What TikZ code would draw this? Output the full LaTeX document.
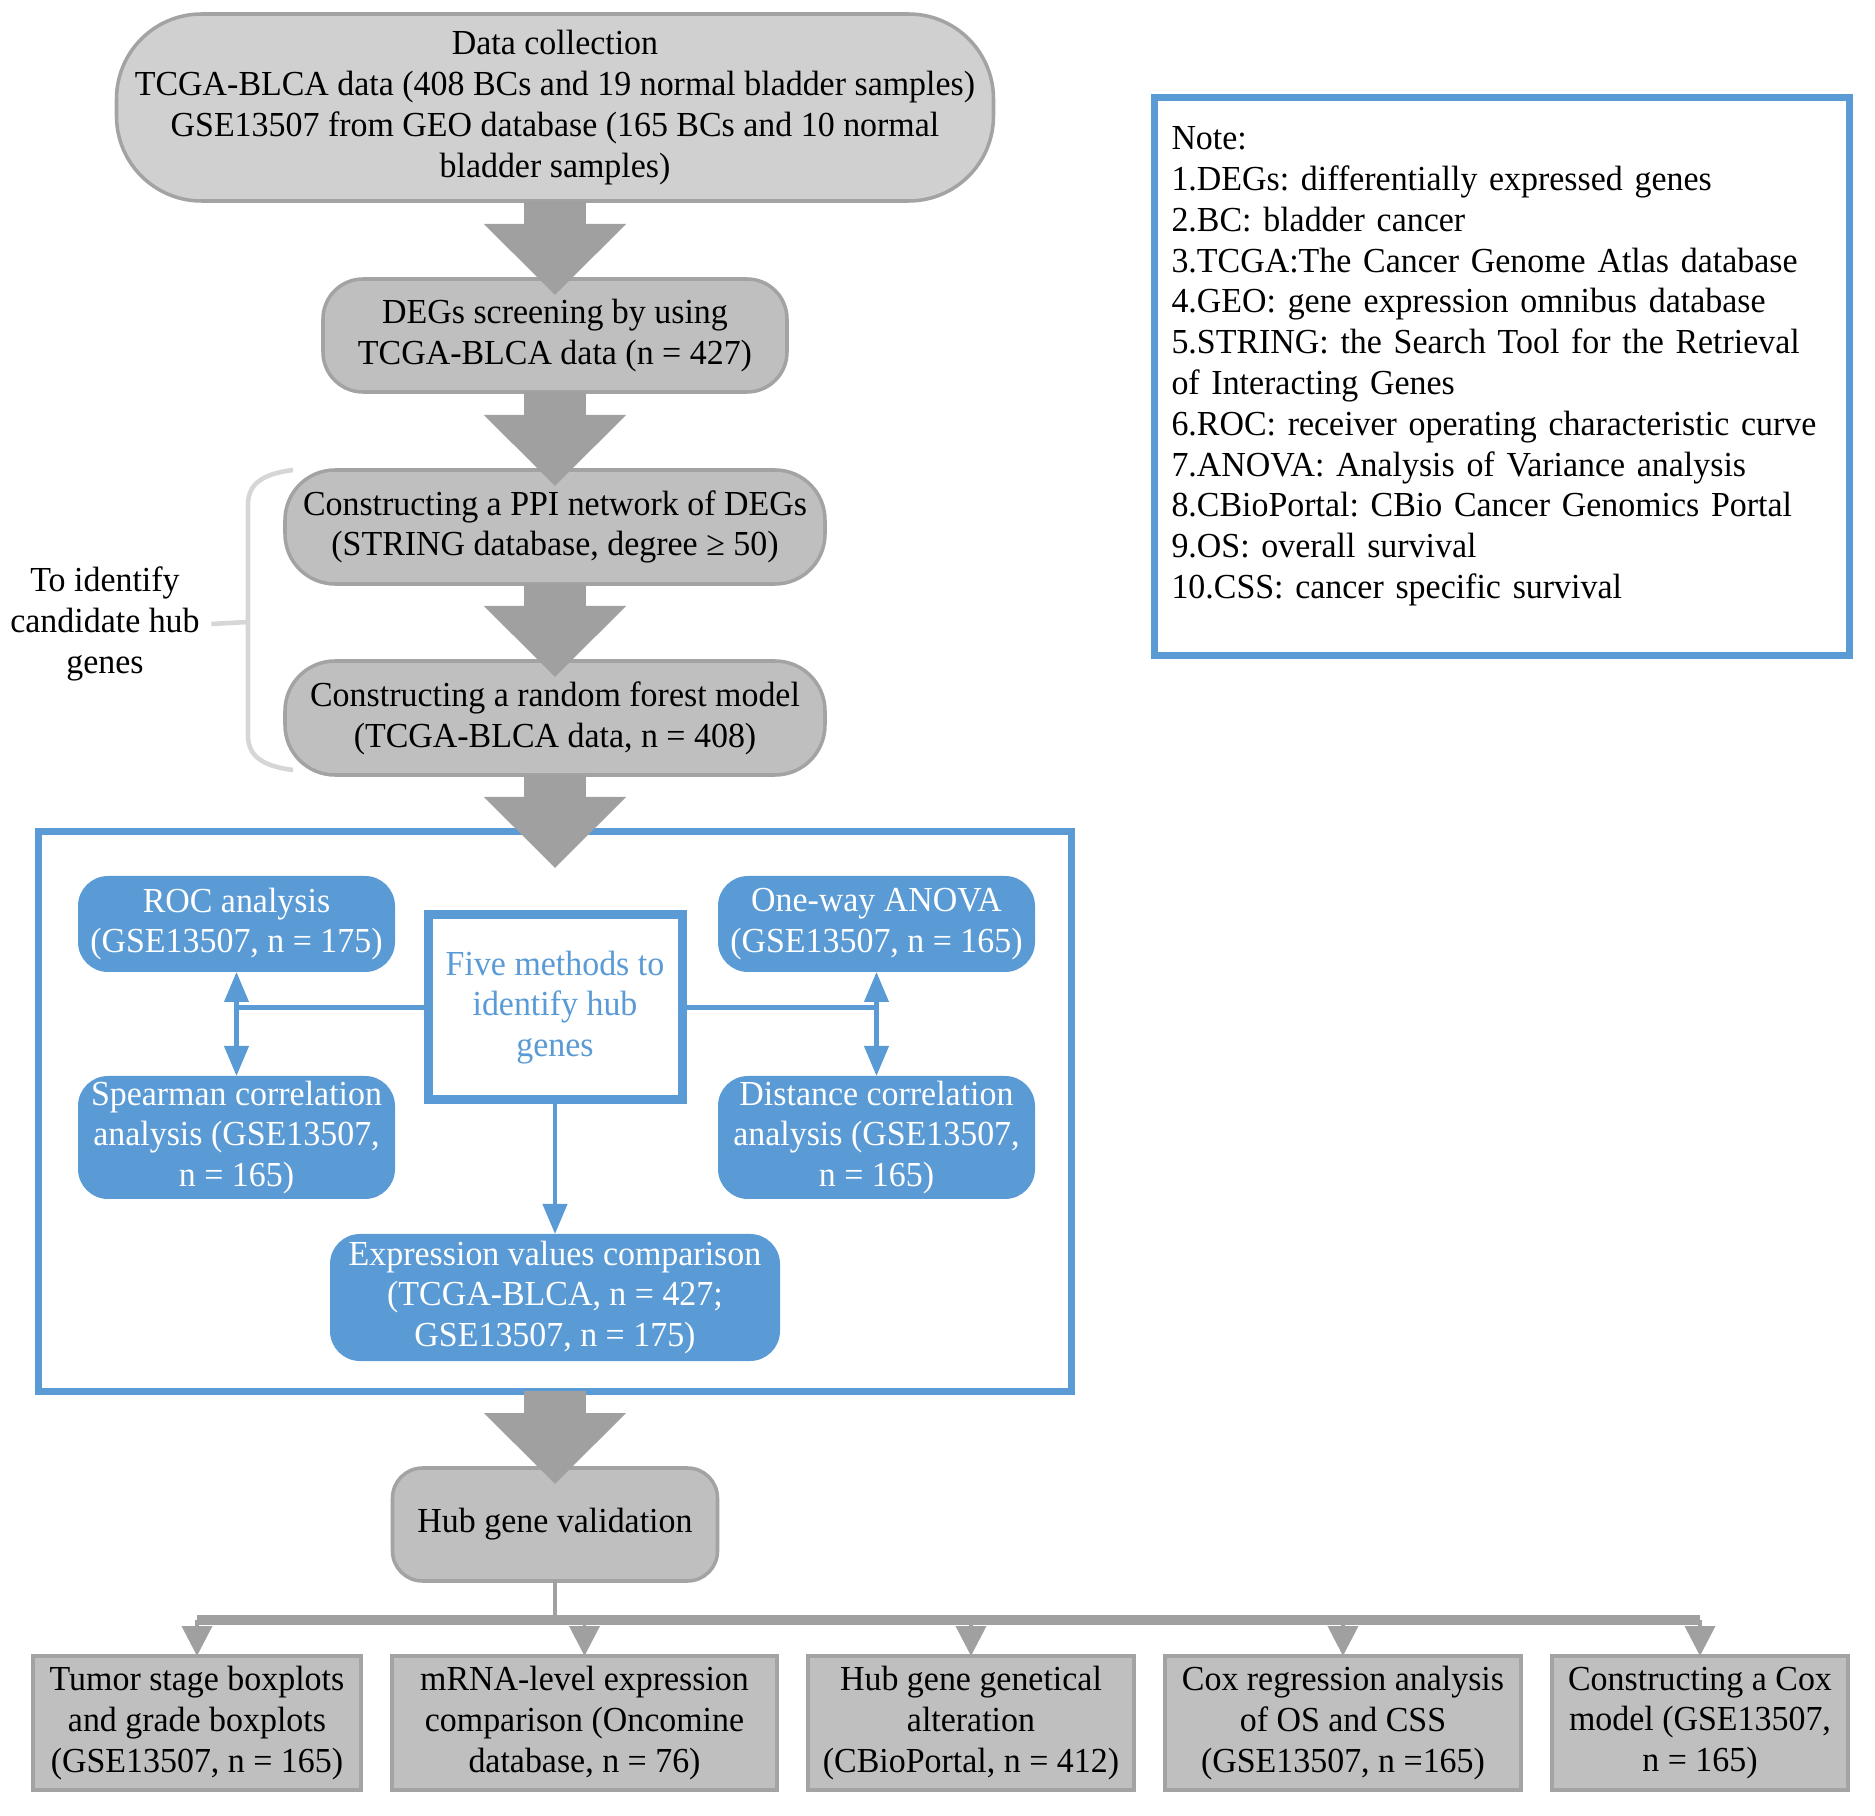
\documentclass[tikz,border=0pt]{standalone}
\usepackage{fontspec}
\setmainfont[FakeStretch=0.965]{Liberation Serif}
\usepackage{xcolor}
\usepackage{tikz}
\usetikzlibrary{arrows.meta,positioning}
\definecolor{officeblue}{HTML}{5B9BD5}
\definecolor{boxgray}{HTML}{BFBFBF}
\definecolor{palegray}{HTML}{D0D0D0}
\definecolor{edgegray}{HTML}{A3A3A3}
\definecolor{arrowgray}{HTML}{A0A0A0}
\definecolor{bracegray}{HTML}{D6D6D6}

\begin{document}
\frenchspacing
\begin{tikzpicture}[
    font=\fontsize{10}{11.6}\selectfont,
    every node/.style={outer sep=0pt},
    graybox/.style={draw=edgegray, line width=1pt, fill=boxgray, align=center, inner ysep=1pt, rounded corners=0.4cm},
    botbox/.style={draw=edgegray, line width=1pt, fill=boxgray, align=center, inner sep=1pt, minimum height=1.34cm},
    bluebox/.style={fill=officeblue, text=white, align=center, inner sep=1pt, rounded corners=0.3cm, minimum width=3.17cm},
    fivebox/.style={draw=officeblue, line width=0.09cm, fill=white, text=officeblue, align=center, minimum width=2.54cm, minimum height=1.85cm},
    framebox/.style={draw=officeblue, line width=0.07cm, minimum width=10.33cm, minimum height=5.59cm},
    notebox/.style={draw=officeblue, line width=0.07cm, fill=white, align=left, text width=6.6cm, minimum width=6.95cm, minimum height=5.58cm},
    bigarrow/.style={arrowgray, line width=0.62cm, -{Triangle[length=0.71cm, width=1.38cm]}},
    blueline/.style={officeblue, line width=1.2pt},
    bluearrow/.style={blueline, {Triangle[length=0.3cm, width=0.24cm]}-{Triangle[length=0.3cm, width=0.24cm]}},
    trunk/.style={arrowgray, line width=1.4pt},
    bus/.style={arrowgray, line width=3pt},
    drop/.style={arrowgray, line width=1.1pt, -{Triangle[length=0.3cm, width=0.3cm]}},
    bracket/.style={bracegray, line width=1.3pt}
]
\useasboundingbox (0,0) rectangle (18.75,-18.16);

\node[graybox, fill=palegray, rounded corners=0.85cm, minimum width=8.77cm, minimum height=1.87cm] (data) at (5.55,-1.075) {Data collection\\TCGA-BLCA data (408 BCs and 19 normal bladder samples)\\GSE13507 from GEO database (165 BCs and 10 normal\\bladder samples)};
\node[graybox, minimum width=4.64cm, minimum height=1.13cm, below=0.78cm of data] (degs) {DEGs screening by using\\TCGA-BLCA data (n = 427)};
\node[graybox, rounded corners=0.5cm, minimum width=5.4cm, minimum height=1.14cm, below=0.78cm of degs] (ppi) {Constructing a PPI network of DEGs\\(STRING database, degree ≥ 50)};
\node[graybox, rounded corners=0.5cm, minimum width=5.4cm, minimum height=1.14cm, below=0.77cm of ppi] (forest) {Constructing a random forest model\\(TCGA-BLCA data, n = 408)};
\node[align=center] (cand) at (1.05,-6.24) {To identify\\candidate hub\\genes};

\node[framebox, below=0.57cm of forest] (methods) {};
\node[bluebox, minimum height=0.96cm] (roc) at (2.365,-9.24) {ROC analysis\\(GSE13507, n = 175)};
\node[bluebox, minimum height=0.96cm] (anova) at (8.765,-9.24) {One-way ANOVA\\(GSE13507, n = 165)};
\node[fivebox] (five) at (5.55,-10.075) {Five methods to\\identify hub\\genes};
\node[bluebox, minimum height=1.23cm] (spear) at (2.365,-11.375) {Spearman correlation\\analysis (GSE13507,\\n = 165)};
\node[bluebox, minimum height=1.23cm] (dist) at (8.765,-11.375) {Distance correlation\\analysis (GSE13507,\\n = 165)};
\node[bluebox, minimum width=4.5cm, minimum height=1.27cm] (expr) at (5.55,-12.975) {Expression values comparison\\(TCGA-BLCA, n = 427;\\GSE13507, n = 175)};

\node[graybox, rounded corners=0.3cm, minimum width=3.25cm, minimum height=1.13cm, below=0.77cm of methods] (hub) {Hub gene validation};
\node[botbox, minimum width=3.28cm] (stage) at (1.97,-17.23) {Tumor stage boxplots\\and grade boxplots\\(GSE13507, n = 165)};
\node[botbox, minimum width=3.85cm, right=0.31cm of stage] (mrna) {mRNA-level expression\\comparison (Oncomine\\database, n = 76)};
\node[botbox, minimum width=3.26cm, right=0.31cm of mrna] (alter) {Hub gene genetical\\alteration\\(CBioPortal, n = 412)};
\node[botbox, minimum width=3.56cm, right=0.31cm of alter] (coxreg) {Cox regression analysis\\of OS and CSS\\(GSE13507, n =165)};
\node[botbox, minimum width=2.96cm, right=0.31cm of coxreg] (coxmod) {Constructing a Cox\\model (GSE13507,\\n = 165)};

\node[notebox] (note) at (15.015,-3.77) {Note:\\1.DEGs: differentially expressed genes\\2.BC: bladder cancer\\3.TCGA:The Cancer Genome Atlas database\\4.GEO: gene expression omnibus database\\5.STRING: the Search Tool for the Retrieval\\of Interacting Genes\\6.ROC: receiver operating characteristic curve\\7.ANOVA: Analysis of Variance analysis\\8.CBioPortal: CBio Cancer Genomics Portal\\9.OS: overall survival\\10.CSS: cancer specific survival\\[-0.12cm]\mbox{}};

\draw[bigarrow, shorten >=-0.16cm] (data) -- (degs);
\draw[bigarrow, shorten >=-0.16cm] (degs) -- (ppi);
\draw[bigarrow, shorten >=-0.16cm] (ppi) -- (forest);
\draw[bigarrow, shorten >=-0.36cm] (forest) -- (methods);
\draw[bigarrow, shorten >=-0.16cm] (methods) -- (hub);

\coordinate (bracemid) at (2.48,-6.22);
\draw[bracket] (2.93,-4.70) .. controls (2.62,-4.74) and (2.48,-4.84) .. (2.48,-5.05) -- (2.48,-7.35) .. controls (2.48,-7.56) and (2.62,-7.66) .. (2.93,-7.70);
\draw[bracket] (bracemid) -- (cand.east);

\draw[blueline] (five.west) -- (five.west -| roc.south);
\draw[blueline] (five.east) -- (five.east -| anova.south);
\draw[bluearrow] (roc) -- (spear);
\draw[bluearrow] (anova) -- (dist);
\draw[blueline, -{Triangle[length=0.3cm, width=0.24cm]}] (five) -- (expr);

\coordinate[above=0.36cm of stage.north] (busL);
\coordinate[above=0.36cm of coxmod.north] (busR);
\draw[trunk] (hub.south) -- (hub.south |- busL);
\draw[bus] (busL) -- (busR);
\foreach \b in {stage,mrna,alter,coxreg,coxmod}
    \draw[drop] (\b.north |- busL) -- (\b.north);
\end{tikzpicture}
\end{document}
